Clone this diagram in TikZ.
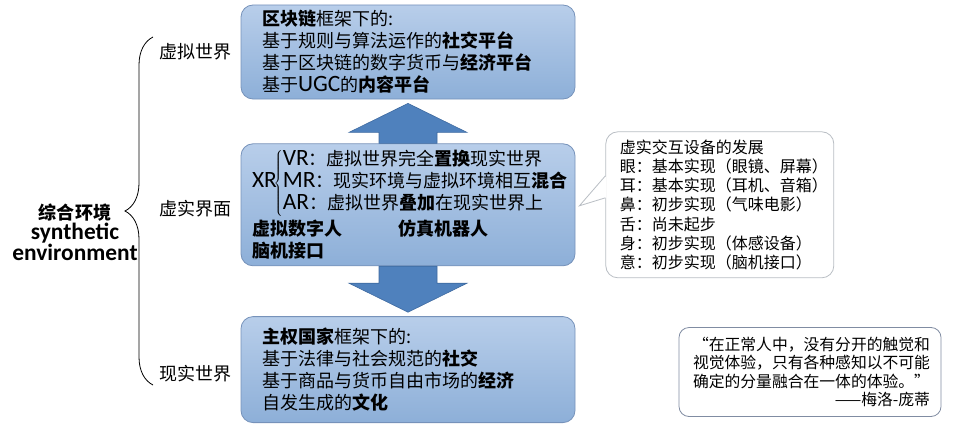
\documentclass[tikz,border=0pt]{standalone}
\usepackage{fontspec}
\setmainfont{Noto Sans CJK SC}
\newfontfamily\lat[Scale=1.3]{Carlito}
\usetikzlibrary{calc, positioning, decorations.pathreplacing}
\definecolor{paneltop}{RGB}{184,206,234}
\definecolor{panelbot}{RGB}{141,175,216}
\definecolor{panelline}{RGB}{118,146,186}
\definecolor{arrowblue}{RGB}{79,129,189}
\definecolor{arrowline}{RGB}{62,106,160}
\definecolor{calloutline}{RGB}{185,190,196}
\definecolor{quoteline}{RGB}{128,140,162}

\begin{document}
\begin{tikzpicture}[x=1pt, y=-1pt,
      panel/.style={draw=panelline, line width=0.8pt, rounded corners=12pt,
                    top color=paneltop, bottom color=panelbot, minimum width=334pt,
                    align=left, font=\fontsize{18}{22}\selectfont},
      lbl/.style={font=\fontsize{18}{22}\selectfont},
      bubble/.style={draw=#1, line width=0.8pt, rounded corners=12pt, fill=white},
      blockarr/.style={fill=arrowblue, draw=arrowline, line width=0.6pt},
      brc/.style={decorate, decoration={brace, amplitude=28pt}, line width=0.8pt}
  ]
    \useasboundingbox (0,0) rectangle (960,444);

    \node[panel, text width=292pt, inner xsep=21pt, minimum height=94pt] (top) at (408,52)
      {\textbf{区块链}框架下的:\\
       基于规则与算法运作的\textbf{社交平台}\\
       基于区块链的数字货币与\textbf{经济平台}\\
       基于{\lat UGC}的\textbf{内容平台}};
    \node[panel, text width=312pt, inner xsep=11pt, minimum height=122pt, below=44pt of top] (mid)
      {{\lat XR}$\!\left\{\begin{tabular}{@{}l@{}}
         {\lat VR}：虚拟世界完全\textbf{置换}现实世界\\
         {\lat MR}：现实环境与虚拟环境相互\textbf{混合}\\
         {\lat AR}：虚拟世界\textbf{叠加}在现实世界上
       \end{tabular}\right.$\\[3pt]
       \textbf{虚拟数字人}\hspace{56pt}\textbf{仿真机器人}\\
       \textbf{脑机接口}};
    \node[panel, text width=292pt, inner xsep=21pt, minimum height=106pt, below=50pt of mid] (bot)
      {\textbf{主权国家}框架下的:\\
       基于法律与社会规范的\textbf{社交}\\
       基于商品与货币自由市场的\textbf{经济}\\
       自发生成的\textbf{文化}};

    \node[lbl, left=6pt of top.west] (lvirt) {虚拟世界};
    \node[lbl, left=6pt of mid.west, yshift=-4pt] (linter) {虚实界面};
    \node[lbl, left=6pt of bot.west, yshift=-4pt] (lreal) {现实世界};

    \node[font=\fontsize{18}{20.5}\selectfont\bfseries, align=center] (env) at (75,232)
      {综合环境\\{\lat synthetic}\\{\lat environment}};
    \coordinate (btop) at (153,37);
    \coordinate (bbot) at (153,385);
    \draw[brc] (bbot) -- (btop);

    % arrows between the panels
    \filldraw[blockarr] ($(mid.north)+(-29,0)$) -- ++(0,-11) -- ++(-30,0) -- ($(top.south)+(0,4)$)
      -- ($(mid.north)+(59,-11)$) -- ++(-30,0) -- ($(mid.north)+(29,0)$) -- cycle;
    \filldraw[blockarr] ($(mid.south)+(-29,0)$) -- ++(0,17) -- ++(-30,0) -- ($(bot.north)+(0,-4)$)
      -- ($(mid.south)+(59,17)$) -- ++(-30,0) -- ($(mid.south)+(29,0)$) -- cycle;

    \node[bubble=calloutline, text width=200pt, inner xsep=14pt, minimum height=146pt,
          align=left, font=\fontsize{16}{19.2}\selectfont, right=30pt of mid] (devs)
      {虚实交互设备的发展\\
       眼：基本实现（眼镜、屏幕）\\
       耳：基本实现（耳机、音箱）\\
       鼻：初步实现（气味电影）\\
       舌：尚未起步\\
       身：初步实现（体感设备）\\
       意：初步实现（脑机接口）};
    % callout tail
    \coordinate (tip) at ($(mid.east)+(4,1)$);
    \fill[white] ($(devs.west)+(1,-29)$) -- (tip) -- ($(devs.west)+(1,-7)$) -- cycle;
    \draw[calloutline, line width=0.8pt] ($(devs.west)+(0,-29)$) -- (tip) -- ($(devs.west)+(0,-7)$);

    \node[bubble=quoteline, rounded corners=10pt, text width=240pt, inner xsep=11pt,
          minimum height=89pt, align=right, font=\fontsize{15.8}{18.5}\selectfont] (quote) at (810,372)
      {“在正常人中，没有分开的触觉和\\
       视觉体验，只有各种感知以不可能\\
       确定的分量融合在一体的体验。”\\
       ——梅洛-庞蒂};
  \end{tikzpicture}
\end{document}
